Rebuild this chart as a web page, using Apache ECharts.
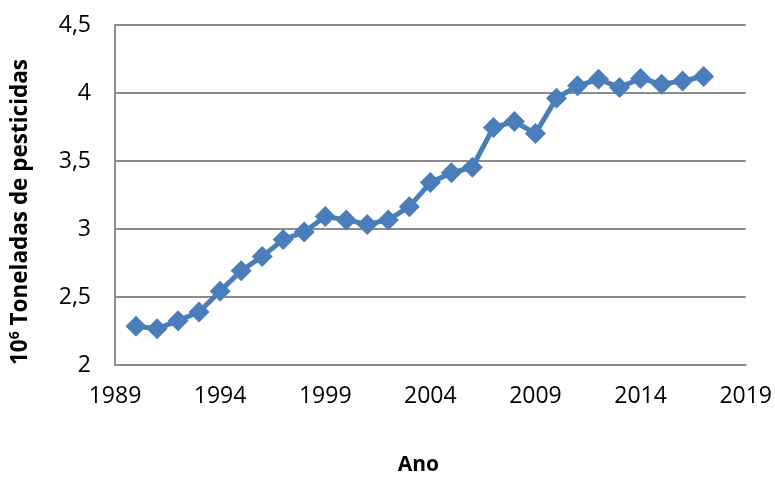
<!DOCTYPE html>
<html>
<head>
<meta charset="utf-8">
<style>
  html, body { margin: 0; padding: 0; background: #ffffff; }
  #chart { width: 775px; height: 481px; }
</style>
<script src="https://cdn.jsdelivr.net/npm/echarts@6/dist/echarts.min.js"></script>
</head>
<body>
<div id="chart"></div>
<script>
// Pesticide use per year (millions of tonnes)
const years = [1990, 1991, 1992, 1993, 1994, 1995, 1996, 1997, 1998, 1999,
               2000, 2001, 2002, 2003, 2004, 2005, 2006, 2007, 2008, 2009,
               2010, 2011, 2012, 2013, 2014, 2015, 2016, 2017];
const toneladas = [2.285, 2.266, 2.326, 2.39, 2.543, 2.693, 2.797, 2.922, 2.978, 3.092,
                   3.067, 3.034, 3.067, 3.164, 3.341, 3.413, 3.454, 3.747, 3.79, 3.703,
                   3.962, 4.053, 4.101, 4.041, 4.107, 4.065, 4.089, 4.121];

// Horizontal axis runs 1989..2019 with a label every 5 years
const yearStart = 1989;
const yearEnd = 2019;
const yearStep = 5;

const yTicks = { min: 2, max: 4.5, step: 0.5 };

// The x axis is counted from yearStart so its ticks land on 1989, 1994, ...
const points = years.map((y, i) => [y - yearStart, toneladas[i]]);

const font = '"Open Sans", "Liberation Sans", sans-serif';
const gridColor = '#8c8c8c';
const blue = '#4a7ebb';

const chart = echarts.init(document.getElementById('chart'), null, { renderer: 'canvas' });

chart.setOption({
  animation: false,
  backgroundColor: '#ffffff',
  grid: { left: 113, right: 28, top: 25, bottom: 111, containLabel: false },
  xAxis: {
    type: 'value',
    min: 0,
    max: yearEnd - yearStart,
    interval: yearStep,
    name: 'Ano',
    nameLocation: 'middle',
    nameGap: 90,
    nameTextStyle: { fontFamily: font, fontWeight: 'bold', fontSize: 21, color: '#000', padding: [0, 24, 0, 0] },
    axisLine: { show: true, lineStyle: { color: gridColor, width: 2 } },
    axisTick: { show: false },
    splitLine: { show: false },
    axisLabel: {
      fontFamily: font, fontSize: 23, color: '#000', margin: 20,
      formatter: v => String(v + yearStart)
    }
  },
  yAxis: {
    type: 'value',
    min: yTicks.min,
    max: yTicks.max,
    interval: yTicks.step,
    name: '{n|10}{sup|6}{n| Toneladas de pesticidas}',
    nameLocation: 'middle',
    nameRotate: 90,
    nameGap: 82,
    nameTextStyle: {
      padding: [0, 34, 0, 0],
      rich: {
        n: { fontFamily: font, fontWeight: 'bold', fontSize: 22.5, color: '#000' },
        sup: { fontFamily: font, fontWeight: 'bold', fontSize: 14, color: '#000', padding: [0, 0, 11, 0] }
      }
    },
    axisLine: { show: true, lineStyle: { color: gridColor, width: 2 } },
    axisTick: { show: false },
    splitLine: { show: true, lineStyle: { color: gridColor, width: 2 } },
    axisLabel: {
      fontFamily: font, fontSize: 23, color: '#000', margin: 24,
      formatter: v => String(v).replace('.', ',')
    }
  },
  series: [{
    type: 'line',
    data: points,
    symbol: 'diamond',
    symbolSize: 21,
    showAllSymbol: true,
    lineStyle: { color: blue, width: 5 },
    itemStyle: { color: blue, borderColor: blue, borderWidth: 0 }
  }]
});
</script>
</body>
</html>
